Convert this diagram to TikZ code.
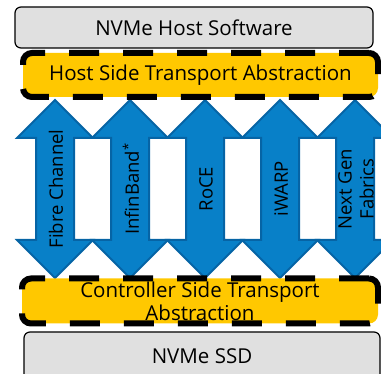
\documentclass[tikz,border=0pt]{standalone}
\usepackage{fontspec}
\setmainfont{Open Sans}
\definecolor{boxgray}{RGB}{224,224,224}
\definecolor{abstryellow}{RGB}{255,200,0}
\definecolor{fabricblue}{RGB}{8,128,200}
\definecolor{fabricedge}{RGB}{6,100,165}
\begin{document}
\begin{tikzpicture}[
    x=1pt, y=-1pt,
    every node/.style={font=\fontsize{20.5}{23}\selectfont},
    fabriclabel/.style={rotate=90, font=\fontsize{18.5}{22}\selectfont},
    layerbox/.style={draw, line width=1.2pt, fill=boxgray, rounded corners=6pt},
    abstrbox/.style={draw, line width=6pt, fill=abstryellow, rounded corners=9pt,
      dash pattern=on 30pt off 24pt, align=center},
    fabricarrow/.style={fill=fabricblue, draw=fabricedge, line width=2pt, line join=miter}
  ]
  \useasboundingbox (0,0) rectangle (381,374);
  \clip (0,0) rectangle (381,374);
  % top layer
  \node[layerbox, minimum width=358pt, minimum height=41pt] (hostsw) at (194,27.5) {NVMe Host Software};
  % transport arrows
  \foreach \cx/\nm in {55/fc, 130/ib, 205/roce, 280/iwarp, 355/ngf} {
    \draw[fabricarrow] (\cx,100) -- (\cx+38,138) -- (\cx+19,138) -- (\cx+19,240)
      -- (\cx+38,240) -- (\cx,278) -- (\cx-38,240) -- (\cx-19,240)
      -- (\cx-19,138) -- (\cx-38,138) -- cycle;
    \coordinate (\nm) at (\cx+1,189);
  }
  % abstraction layers
  \node[abstrbox, minimum width=355pt, minimum height=44pt] (hostside) at (200.5,75)
    {Host Side Transport Abstraction};
  \node[abstrbox, minimum width=356pt, minimum height=45pt, inner sep=0pt] (ctrlside) at (200,301)
    {Controller Side Transport\\Abstraction};
  % bottom layer
  \node[layerbox, minimum width=356pt, minimum height=48pt] (ssd) at (202,356) {NVMe SSD};
  % fabric labels
  \node[fabriclabel] (fclbl) at (fc) {Fibre Channel};
  \node[fabriclabel] (iblbl) at (ib) {InfinBand\textsuperscript{*}};
  \node[fabriclabel] (rocelbl) at (roce) {RoCE};
  \node[fabriclabel] (iwarplbl) at (iwarp) {iWARP};
  \node[fabriclabel, align=center, inner sep=0pt] (ngflbl) at (ngf) {Next Gen\\Fabrics};
\end{tikzpicture}
\end{document}
